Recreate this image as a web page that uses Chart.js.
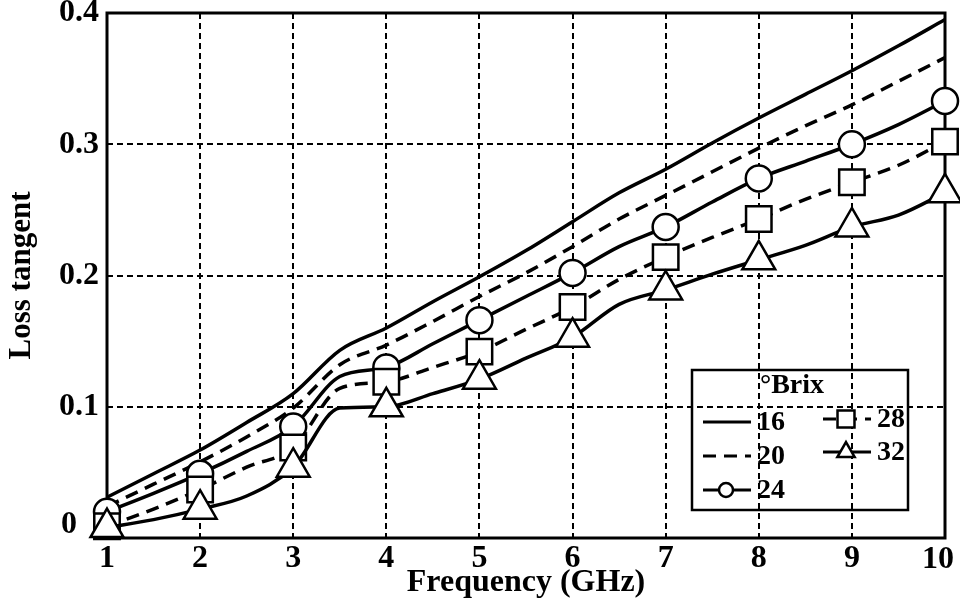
<!DOCTYPE html>
<html>
<head>
<meta charset="utf-8">
<script src="https://cdn.jsdelivr.net/npm/chart.js@4.4.0/dist/chart.umd.min.js"></script>
<style>
  body { margin: 0; background: #fff; }
  #wrap { width: 960px; height: 614px; }
</style>
</head>
<body>
<div id="wrap"><canvas id="lossChart"></canvas></div>
<script>
const freqs = [1, 1.5, 2, 2.5, 3, 3.5, 4, 4.5, 5, 5.5, 6, 6.5, 7, 7.5, 8, 8.5, 9, 9.5, 10];

// Loss tangent for each sugar content (°Brix)
const brix16 = [0.031, 0.049, 0.067, 0.088, 0.110, 0.143, 0.160, 0.180, 0.199, 0.219, 0.241, 0.263, 0.281, 0.301, 0.320, 0.338, 0.356, 0.375, 0.395];
const brix20 = [0.024, 0.041, 0.058, 0.077, 0.099, 0.132, 0.147, 0.165, 0.184, 0.202, 0.222, 0.243, 0.261, 0.279, 0.297, 0.314, 0.330, 0.348, 0.366];
const brix24 = [0.020, 0.034, 0.049, 0.066, 0.085, 0.123, 0.130, 0.148, 0.166, 0.184, 0.202, 0.222, 0.237, 0.256, 0.274, 0.287, 0.300, 0.315, 0.333];
const brix28 = [0.009, 0.022, 0.037, 0.054, 0.069, 0.114, 0.119, 0.130, 0.142, 0.159, 0.176, 0.197, 0.214, 0.229, 0.243, 0.258, 0.271, 0.284, 0.302];
const brix32 = [0.008, 0.014, 0.022, 0.032, 0.054, 0.099, 0.100, 0.110, 0.121, 0.137, 0.153, 0.178, 0.189, 0.201, 0.212, 0.223, 0.237, 0.246, 0.263];

const seriesNames = ['16', '20', '24', '28', '32'];
const legendTitle = '°Brix';
const xTickLabels = ['1', '2', '3', '4', '5', '6', '7', '8', '9', '10'];
const yTickLabels = ['0', '0.1', '0.2', '0.3', '0.4'];

const serif = "'Liberation Serif', 'Times New Roman', serif";

function toPoints(values) {
    return freqs.map((f, i) => ({ x: f, y: values[i] }));
}

// markers only sit on the whole-GHz points
function markerAt(r) {
    return (c) => (c.raw && Number.isInteger(c.raw.x)) ? r : 0;
}

function makeSet(label, values, dash, style, radius, order) {
    return {
        label: label,
        data: toPoints(values),
        borderColor: '#000',
        borderWidth: 3.5,
        borderDash: dash,
        pointStyle: style || 'circle',
        pointRadius: style ? markerAt(radius) : 0,
        pointHoverRadius: 0,
        pointBackgroundColor: '#fff',
        pointBorderColor: '#000',
        pointBorderWidth: 2.5,
        cubicInterpolationMode: 'monotone',
        fill: false,
        clip: false,
        order: order
    };
}

// solid box round the plot area, plus the two corner labels ("0" and "10")
// that sit nudged away from their ticks in the original
const framePlugin = {
    id: 'frame',
    beforeDatasetsDraw(chart) {
        const { ctx, chartArea: a } = chart;
        ctx.save();
        ctx.strokeStyle = '#000';
        ctx.lineWidth = 3;
        ctx.strokeRect(a.left, a.top, a.right - a.left, a.bottom - a.top);
        ctx.fillStyle = '#000';
        ctx.font = 'bold 32px ' + serif;
        ctx.textAlign = 'center';
        ctx.textBaseline = 'middle';
        ctx.fillText(yTickLabels[0], a.left - 38, chart.scales.y.getPixelForValue(0) - 13);
        const last = xTickLabels.length - 1;
        ctx.fillText(xTickLabels[last], chart.scales.x.getPixelForValue(last + 1) - 7, a.bottom + 22);
        ctx.restore();
    }
};

// two-column legend in the lower right, drawn from the datasets
const brixLegend = {
    id: 'brixLegend',
    afterDatasetsDraw(chart) {
        const { ctx, chartArea: a } = chart;
        const left = a.right - 253;
        const top = a.top + 357;
        ctx.save();
        ctx.strokeStyle = '#000';
        ctx.lineWidth = 2.5;
        ctx.strokeRect(left, top, 216, 140);

        ctx.fillStyle = '#000';
        ctx.font = 'bold 28px ' + serif;
        ctx.textBaseline = 'middle';
        ctx.textAlign = 'center';
        ctx.fillText(legendTitle, left + 100, top + 16);

        const slots = [[11, 52], [11, 86], [11, 120], [131, 49], [131, 82]];
        const legendRadius = { circle: 7, rect: 12, triangle: 10 };
        chart.data.datasets.forEach((ds, i) => {
            const x0 = left + slots[i][0];
            const y = top + slots[i][1];
            ctx.save();
            ctx.lineWidth = 3;
            ctx.strokeStyle = '#000';
            ctx.setLineDash(ds.borderDash || []);
            ctx.beginPath();
            ctx.moveTo(x0, y);
            ctx.lineTo(x0 + 48, y);
            ctx.stroke();
            ctx.setLineDash([]);
            if (i >= 2) {
                ctx.fillStyle = '#fff';
                ctx.lineWidth = 2.5;
                Chart.helpers.drawPoint(ctx, {
                    pointStyle: ds.pointStyle,
                    radius: legendRadius[ds.pointStyle],
                    rotation: 0,
                    borderWidth: 2.5
                }, x0 + 23, y);
            }
            ctx.restore();
            ctx.textAlign = 'left';
            ctx.fillStyle = '#000';
            ctx.fillText(ds.label, x0 + 54, y + 1);
        });
        ctx.restore();
    }
};

const ctx = document.getElementById('lossChart').getContext('2d');
new Chart(ctx, {
    type: 'line',
    data: {
        datasets: [
            makeSet(seriesNames[0], brix16, [], null, 0, 4),
            makeSet(seriesNames[1], brix20, [13, 8], null, 0, 3),
            makeSet(seriesNames[2], brix24, [], 'circle', 13, 2),
            makeSet(seriesNames[3], brix28, [13, 8], 'rect', 18, 1),
            makeSet(seriesNames[4], brix32, [], 'triangle', 19, 0)
        ]
    },
    options: {
        responsive: true,
        maintainAspectRatio: false,
        animation: false,
        layout: { autoPadding: false, padding: { top: 13, right: 15, left: 0, bottom: 0 } },
        plugins: {
            legend: { display: false },
            tooltip: { enabled: false }
        },
        scales: {
            x: {
                type: 'linear',
                min: 1,
                max: 10,
                afterFit: (s) => { s.height = 76; s.paddingLeft = 0; s.paddingRight = 0; },
                grid: { color: '#000', lineWidth: 2, drawTicks: false },
                border: { display: false, dash: [6, 4] },
                ticks: {
                    stepSize: 1,
                    padding: 2,
                    color: '#000',
                    font: { family: serif, size: 32, weight: 'bold' },
                    // last label is drawn by the frame plugin
                    callback: (v) => v === xTickLabels.length ? '' : xTickLabels[v - 1]
                },
                title: {
                    display: true,
                    text: 'Frequency (GHz)',
                    color: '#000',
                    font: { family: serif, size: 32, weight: 'bold' },
                    padding: { top: 0, bottom: 12 }
                }
            },
            y: {
                min: 0,
                max: 0.4,
                afterFit: (s) => { s.width = 107; s.paddingTop = 0; s.paddingBottom = 0; },
                grid: { color: '#000', lineWidth: 2, drawTicks: true, tickLength: 8, tickColor: 'transparent' },
                border: { display: false, dash: [6, 4] },
                ticks: {
                    stepSize: 0.1,
                    padding: 0,
                    color: '#000',
                    font: { family: serif, size: 32, weight: 'bold', lineHeight: 0.8 },
                    // "0" is drawn by the frame plugin, nudged clear of the "1"
                    callback: (v) => Math.round(v * 10) === 0 ? '' : yTickLabels[Math.round(v * 10)]
                },
                title: {
                    display: true,
                    text: 'Loss tangent',
                    color: '#000',
                    font: { family: serif, size: 31, weight: 'bold' },
                    padding: { top: 3, bottom: 0 }
                }
            }
        }
    },
    plugins: [framePlugin, brixLegend]
});
</script>
</body>
</html>
